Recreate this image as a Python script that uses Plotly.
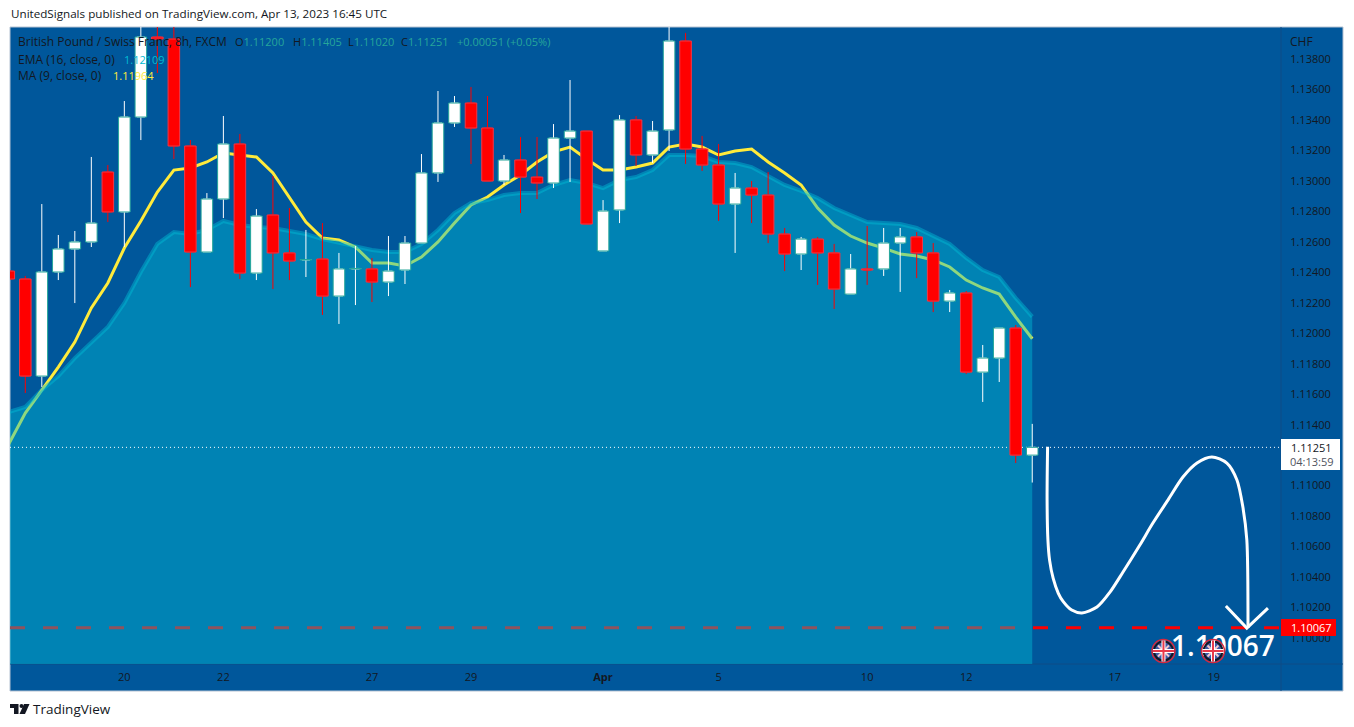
import plotly.graph_objects as go

# GBPCHF 8h candles
opens = [1.12408, 1.12356, 1.11719, 1.12402, 1.12553, 1.12599, 1.13058, 1.12796, 1.13419, 1.13944,
         1.13931, 1.13229, 1.12533, 1.12881, 1.13242, 1.12395, 1.12776, 1.12527, 1.12481, 1.12487,
         1.12244, 1.12422, 1.12422, 1.12336, 1.12415, 1.12592, 1.13052, 1.13380, 1.13511, 1.13347,
         1.12999, 1.13137, 1.13025, 1.12986, 1.13281, 1.13327, 1.12540, 1.12809, 1.13400, 1.13170,
         1.13334, 1.13918, 1.13209, 1.13104, 1.12848, 1.12953, 1.12907, 1.12651, 1.12520, 1.12618,
         1.12527, 1.12257, 1.12422, 1.12422, 1.12592, 1.12632, 1.12527, 1.12211, 1.12264, 1.11745,
         1.11837, 1.12034, 1.11200]
highs = [1.12408, 1.12376, 1.12848, 1.12645, 1.12671, 1.13157, 1.13104, 1.13524, 1.14010, 1.14010,
         1.14010, 1.13268, 1.12920, 1.13426, 1.13308, 1.12815, 1.13032, 1.12822, 1.12678, 1.12723,
         1.12527, 1.12573, 1.12494, 1.12638, 1.12638, 1.13176, 1.13590, 1.13557, 1.13616, 1.13557,
         1.13170, 1.13288, 1.13288, 1.13373, 1.13662, 1.13327, 1.12874, 1.13432, 1.13426, 1.13393,
         1.14010, 1.13971, 1.13295, 1.13242, 1.13052, 1.12999, 1.13058, 1.12691, 1.12632, 1.12632,
         1.12586, 1.12520, 1.12704, 1.12691, 1.12691, 1.12664, 1.12592, 1.12284, 1.12277, 1.11923,
         1.12034, 1.12054, 1.11405]
lows = [1.12356, 1.11608, 1.11647, 1.12349, 1.12198, 1.12566, 1.12730, 1.12566, 1.13268, 1.13708,
        1.13144, 1.12303, 1.12533, 1.12756, 1.12356, 1.12349, 1.12290, 1.12349, 1.12369, 1.12120,
        1.12061, 1.12185, 1.12205, 1.12244, 1.12323, 1.12592, 1.12993, 1.13354, 1.13111, 1.12999,
        1.12973, 1.12789, 1.12881, 1.12953, 1.12993, 1.12717, 1.12540, 1.12723, 1.13098, 1.13117,
        1.13196, 1.13111, 1.13065, 1.12737, 1.12527, 1.12723, 1.12592, 1.12408, 1.12415, 1.12317,
        1.12159, 1.12257, 1.12317, 1.12376, 1.12271, 1.12362, 1.12139, 1.12139, 1.11732, 1.11549,
        1.11680, 1.11148, 1.11020]
closes = [1.12356, 1.11719, 1.12402, 1.12553, 1.12599, 1.12723, 1.12796, 1.13419, 1.13944, 1.13931,
          1.13229, 1.12533, 1.12881, 1.13242, 1.12395, 1.12769, 1.12527, 1.12474, 1.12484, 1.12244,
          1.12422, 1.12425, 1.12336, 1.12408, 1.12592, 1.13052, 1.13380, 1.13511, 1.13347, 1.12999,
          1.13137, 1.13025, 1.12986, 1.13281, 1.13327, 1.12717, 1.12802, 1.13400, 1.13170, 1.13327,
          1.13918, 1.13209, 1.13104, 1.12848, 1.12953, 1.12907, 1.12651, 1.12520, 1.12618, 1.12527,
          1.12290, 1.12422, 1.12415, 1.12592, 1.12632, 1.12527, 1.12211, 1.12264, 1.11745, 1.11837,
          1.12034, 1.11200, 1.11251]

ema16 = [1.11483, 1.11516, 1.11627, 1.11719, 1.11837, 1.11936, 1.12041, 1.12198, 1.12402, 1.12586,
         1.12664, 1.12651, 1.12678, 1.12737, 1.12710, 1.12697, 1.12691, 1.12671, 1.12651, 1.12618,
         1.12592, 1.12566, 1.12546, 1.12533, 1.12533, 1.12586, 1.12678, 1.12789, 1.12855, 1.12874,
         1.12907, 1.12920, 1.12920, 1.12973, 1.13006, 1.12986, 1.12953, 1.13006, 1.13025, 1.13071,
         1.13170, 1.13170, 1.13163, 1.13124, 1.13117, 1.13091, 1.13032, 1.12973, 1.12934, 1.12888,
         1.12822, 1.12776, 1.12730, 1.12723, 1.12717, 1.12691, 1.12638, 1.12586, 1.12494, 1.12415,
         1.12369, 1.12231, 1.12109]
ma9 = [1.11273, 1.11476, 1.11627, 1.11778, 1.11942, 1.12166, 1.12330, 1.12559, 1.12737, 1.12927,
       1.13071, 1.13085, 1.13124, 1.13183, 1.13170, 1.13157, 1.13052, 1.12894, 1.12730, 1.12625,
       1.12612, 1.12566, 1.12461, 1.12461, 1.12441, 1.12500, 1.12599, 1.12723, 1.12842, 1.12894,
       1.12973, 1.13039, 1.13124, 1.13190, 1.13222, 1.13144, 1.13071, 1.13071, 1.13091, 1.13117,
       1.13222, 1.13242, 1.13222, 1.13170, 1.13196, 1.13209, 1.13124, 1.13052, 1.12973, 1.12822,
       1.12710, 1.12638, 1.12592, 1.12559, 1.12520, 1.12507, 1.12481, 1.12435, 1.12349, 1.12297,
       1.12257, 1.12106, 1.11964]

# hand drawn projection
curve_x = [62.93, 62.90, 62.95, 63.05, 63.27, 63.58, 63.88, 64.39, 65.01, 65.92, 66.71, 67.50, 68.52,
           69.31, 70.22, 71.13, 71.98, 72.88, 73.79, 74.40, 74.76, 75.00, 75.07]
curve_y = [1.11255, 1.10905, 1.10643, 1.10511, 1.10391, 1.10293, 1.10238, 1.10183, 1.10164, 1.10203,
           1.10301, 1.10433, 1.10610, 1.10754, 1.10905, 1.11056, 1.11148, 1.11188, 1.11148, 1.11037,
           1.10859, 1.10643, 1.10065]
arrow_x = [73.73, 75.0, 76.28]
arrow_y = [1.10210, 1.10065, 1.10196]
flag_x = [69.95, 72.95]
flag_y = [1.09914, 1.09914]

x_tick_pos = [7, 13, 22, 28, 36, 43, 52, 58, 67, 73]
x_tick_text = ["20", "22", "27", "29", "<b>Apr</b>", "5", "10", "12", "17", "19"]
# 1.112 sits behind the last price tag, so it has no label
y_ticks = [1.100, 1.102, 1.104, 1.106, 1.108, 1.110, 1.114, 1.116, 1.118,
           1.120, 1.122, 1.124, 1.126, 1.128, 1.130, 1.132, 1.134, 1.136, 1.138]
last_price = 1.11251
target_price = 1.10067

y_range = [1.09829, 1.14010]
x_range = [0.073, 77.07]

BG = "#00579b"
DARK = "#131722"
TEAL = "#26a69a"
FONT = "Open Sans"

idx = list(range(len(opens)))
body_base = [min(o, c) for o, c in zip(opens, closes)]
body_size = [abs(o - c) for o, c in zip(opens, closes)]
body_fill = ["#ffffff" if c >= o else "#ff0000" for o, c in zip(opens, closes)]
body_line = [TEAL if c >= o else "#f23645" for o, c in zip(opens, closes)]


# page pixels to paper fractions, for the frame and labels
def px(v):
    return (v - 10) / 1271


def py(v):
    return (664 - v) / 637


fig = go.Figure()

# ma goes under the translucent area, that is why it turns green there
fig.add_trace(go.Scatter(x=idx, y=ma9, mode="lines", line=dict(color="#ffeb3b", width=3)))
fig.add_trace(go.Scatter(x=idx, y=ema16, mode="lines", fill="tozeroy",
                         fillcolor="rgba(0,188,212,0.44)",
                         line=dict(color="rgba(0,188,212,0.45)", width=4)))

fig.add_trace(go.Scatter(x=x_range, y=[last_price, last_price], mode="lines", yaxis="y2",
                         line=dict(color="#ffffff", width=1, dash="1px,3px")))
fig.add_trace(go.Candlestick(x=idx, open=opens, high=highs, low=lows, close=closes, yaxis="y2",
                             whiskerwidth=0,
                             increasing=dict(line=dict(color="#ffffff", width=1), fillcolor="#ffffff"),
                             decreasing=dict(line=dict(color="#ff0000", width=1), fillcolor="#ff0000")))
fig.add_trace(go.Scatter(x=[73.55], y=[1.09925], mode="text", text=[str(target_price)], yaxis="y2",
                         textfont=dict(family=FONT, size=28, color="#ffffff", weight=600)))

fig.add_trace(go.Bar(x=idx, y=body_size, base=body_base, width=0.7, yaxis="y3",
                     marker=dict(color=body_fill, line=dict(color=body_line, width=1))))
fig.add_trace(go.Scatter(x=curve_x, y=curve_y, mode="lines", yaxis="y3",
                         line=dict(color="#ffffff", width=3, shape="spline", smoothing=0.8)))
fig.add_trace(go.Scatter(x=arrow_x, y=arrow_y, mode="lines", yaxis="y3",
                         line=dict(color="#ffffff", width=3)))
# uk flag event markers
fig.add_trace(go.Scatter(x=flag_x, y=flag_y, mode="markers", yaxis="y3",
                         marker=dict(size=19, color="#3f5ca8", line=dict(color="#131722", width=2))))
fig.add_trace(go.Scatter(x=flag_x, y=flag_y, mode="markers", yaxis="y3",
                         marker=dict(size=23, color="rgba(0,0,0,0)", line=dict(color="#d8283c", width=1.5))))
fig.add_trace(go.Scatter(x=flag_x, y=flag_y, mode="markers", yaxis="y3",
                         marker=dict(size=11, symbol="x-thin", line=dict(color="#f2c6cc", width=2))))
fig.add_trace(go.Scatter(x=flag_x, y=flag_y, mode="markers", yaxis="y3",
                         marker=dict(size=15, symbol="cross-thin", line=dict(color="#ffffff", width=4))))
fig.add_trace(go.Scatter(x=flag_x, y=flag_y, mode="markers", yaxis="y3",
                         marker=dict(size=15, symbol="cross-thin", line=dict(color="#e8394b", width=2))))

shapes = [
    dict(type="rect", xref="paper", yref="paper", x0=px(10), x1=px(1343), y0=py(691), y1=py(27),
         fillcolor=BG, line=dict(color="#b5c2d2", width=1), layer="below"),
    dict(type="line", xref="paper", yref="paper", x0=px(1281), x1=px(1281), y0=py(691), y1=py(27),
         line=dict(color="#0e4c86", width=1), layer="below"),
    dict(type="line", xref="paper", yref="paper", x0=px(10), x1=px(1343), y0=py(664), y1=py(664),
         line=dict(color="#0e4c86", width=1), layer="below"),
    dict(type="line", xref="paper", yref="y", x0=0, x1=1, y0=target_price, y1=target_price,
         line=dict(color="#ff0000", width=3, dash="15px,18px"), layer="below"),
    # price tags on the scale
    dict(type="rect", xref="paper", yref="paper", x0=px(1281), x1=px(1340), y0=py(470), y1=py(439),
         fillcolor="#ffffff", line=dict(width=0)),
    dict(type="rect", xref="paper", yref="paper", x0=px(1281), x1=px(1336), y0=py(636), y1=py(619),
         fillcolor="#ff0000", line=dict(width=0)),
    # tradingview logo
    dict(type="path", xref="paper", yref="paper", fillcolor=DARK, line=dict(width=0),
         path=f"M{px(10)},{py(704)} L{px(18.5)},{py(704)} L{px(18.5)},{py(714)} L{px(14)},{py(714)} "
              f"L{px(14)},{py(708)} L{px(10)},{py(708)} Z"),
    dict(type="path", xref="paper", yref="paper", fillcolor=DARK, line=dict(width=0),
         path=f"M{px(24)},{py(704)} L{px(29.5)},{py(704)} L{px(25)},{py(714)} L{px(19.5)},{py(714)} Z"),
    dict(type="circle", xref="paper", yref="paper", fillcolor=DARK, line=dict(width=0),
         x0=px(19.5), x1=px(23.5), y0=py(708), y1=py(704)),
]


def label(text, x, y, size=11, color=DARK, anchor="left"):
    return dict(text=text, xref="paper", yref="paper", x=px(x), y=py(y), xanchor=anchor, yanchor="middle",
                showarrow=False, borderpad=0, font=dict(family=FONT, size=size, color=color))


def num(s, color=TEAL):
    return f'<span style="color:{color}">{s}</span>'


annotations = [
    label("UnitedSignals published on TradingView.com, Apr 13, 2023 16:45 UTC", 10, 14, size=11.65),
    label("British Pound / Swiss Franc, 8h, FXCM", 17, 41, size=12),
    label("O" + num("1.11200"), 234, 41),
    label("H" + num("1.11405"), 292, 41),
    label("L" + num("1.11020"), 347, 41),
    label("C" + num("1.11251"), 400, 41),
    label(num("+0.00051 (+0.05%)"), 456, 41),
    label("EMA (16, close, 0)", 17, 59, size=12),
    label(num("1.12109", "#00bcd4"), 123, 59),
    label("MA (9, close, 0)", 17, 76, size=12),
    label(num("1.11964", "#ffeb3b"), 112, 76),
    label("CHF", 1289, 41, size=12),
    label("TradingView", 32, 709, size=13.5),
    label("1.11251", 1290, 447.5),
    label("<span style='color:#50535e'>04:13:59</span>", 1289, 462),
    label("1.10067", 1290, 627.5, color="#ffffff"),
]

fig.update_layout(
    width=1354,
    height=727,
    margin=dict(l=10, r=73, t=27, b=63),
    paper_bgcolor="#ffffff",
    plot_bgcolor=BG,
    showlegend=False,
    hovermode=False,
    shapes=shapes,
    annotations=annotations,
    font=dict(family=FONT, size=11, color=DARK),
    xaxis=dict(range=x_range, tickmode="array", tickvals=x_tick_pos, ticktext=x_tick_text,
               showgrid=False, zeroline=False, showline=False, rangeslider=dict(visible=False),
               ticks="outside", ticklen=3, tickcolor="rgba(0,0,0,0)",
               tickfont=dict(family=FONT, size=11, color=DARK)),
    yaxis=dict(range=y_range, side="right", tickmode="array", tickvals=y_ticks, tickformat=".5f",
               showgrid=False, zeroline=False, showline=False,
               ticks="outside", ticklen=6, tickcolor="rgba(0,0,0,0)",
               tickfont=dict(family=FONT, size=11, color=DARK)),
    yaxis2=dict(range=y_range, overlaying="y", visible=False),
    yaxis3=dict(range=y_range, overlaying="y", visible=False),
)

fig.write_html("out.html", config=dict(displayModeBar=False),
               post_script="document.body.style.margin='0';")
